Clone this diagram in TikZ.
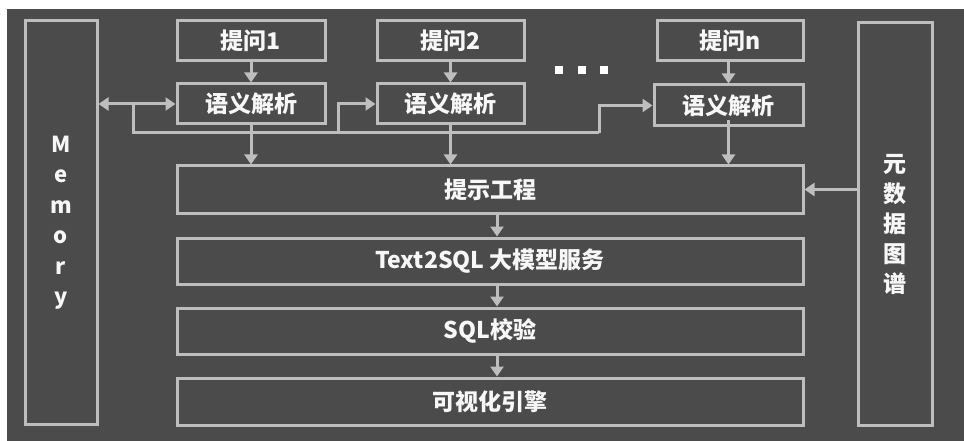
\documentclass[tikz,border=0pt]{standalone}
\usepackage{fontspec}
\setmainfont{Noto Sans CJK SC}
\usetikzlibrary{arrows.meta,calc}
\definecolor{bgdark}{HTML}{4B4B4B}
\definecolor{linegray}{HTML}{BEBEBE}
\definecolor{txtwhite}{HTML}{F7F7F7}
\begin{document}
\begin{tikzpicture}[x=1pt,y=-1pt,
  box/.style={draw=linegray,line width=3pt,rectangle,inner sep=0pt,
    text=txtwhite,font=\fontsize{23}{26}\selectfont\bfseries},
  conn/.style={draw=linegray,line width=3pt,-{Triangle[width=13pt,length=10pt]}},
  bus/.style={draw=linegray,line width=3pt},
  dot/.style={fill=white,minimum size=8pt,inner sep=0pt,rectangle}]
\useasboundingbox (0,0) rectangle (964,441);
\fill[white] (0,0) rectangle (964,441);
\fill[bgdark] (7,9) rectangle (964,441);

% side columns
\node[box,minimum width=72pt,minimum height=403pt,align=center,
  font=\fontsize{22}{30.5}\selectfont\bfseries] (mem) at (61,222.5) {M\\e\\m\\o\\r\\y};
\node[box,minimum width=74pt,minimum height=403pt,align=center,
  font=\fontsize{23}{30}\selectfont\bfseries] (meta) at (895,224) {元\\数\\据\\图\\谱};

% questions
\node[box,minimum width=148pt,minimum height=40pt] (q1) at (251,41) {提问1};
\node[box,minimum width=147pt,minimum height=40pt] (q2) at (450.5,41) {提问2};
\node[box,minimum width=146pt,minimum height=40pt] (qn) at (730,41) {提问n};

% parsing
\node[box,minimum width=148pt,minimum height=40pt] (p1) at (251,104) {语义解析};
\node[box,minimum width=147pt,minimum height=40pt] (p2) at (450.5,104) {语义解析};
\node[box,minimum width=149pt,minimum height=41pt] (pn) at (728.5,105.5) {语义解析};

% dots
\node[dot] (d1) at (559,70) {};
\node[dot] (d2) at (582,70) {};
\node[dot] (d3) at (604,70) {};

% pipeline
\node[box,minimum width=626pt,minimum height=47pt] (prompt) at (490,189.5) {提示工程};
\node[box,minimum width=626pt,minimum height=46pt] (llm) at (490,261) {Text2SQL 大模型服务};
\node[box,minimum width=626pt,minimum height=46pt] (check) at (490,331) {SQL校验};
\node[box,minimum width=626pt,minimum height=47pt] (vis) at (490,401.5) {可视化引擎};

% question -> parsing
\draw[conn] (q1) -- (p1);
\draw[conn] (q2) -- (p2);
\draw[conn] (qn.south -| pn) -- (pn);

% memory <-> parsing 1
\draw[conn,{Triangle[width=13pt,length=10pt]}-{Triangle[width=13pt,length=10pt]}]
  (mem.east |- p1.west) -- (p1.west);

% bus
\coordinate (b0) at (133,104);
\coordinate (b1) at (133,133);
\coordinate (b2) at (338,133);
\coordinate (b3) at (599,133);
\draw[bus] (b0) -- (b1) -- (b3);
\draw[conn] (b2) -- (b2 |- p2.west) -- (p2.west);
\draw[conn] (b3) -- (b3 |- pn.west) -- (pn.west);

% parsing -> prompt
\draw[conn] (p1.south) -- (p1.south |- prompt.north);
\draw[conn] (p2.south) -- (p2.south |- prompt.north);
\draw[conn] ([yshift=7pt]pn.south) -- (pn.south |- prompt.north);

% metadata -> prompt
\draw[conn] (meta.west |- prompt.east) -- (prompt.east);

% pipeline arrows
\draw[conn] ([xshift=7pt]prompt.south) -- ([xshift=7pt]llm.north);
\draw[conn] ([xshift=7pt]llm.south) -- ([xshift=7pt]check.north);
\draw[conn] ([xshift=7pt]check.south) -- ([xshift=7pt]vis.north);
\end{tikzpicture}
\end{document}
